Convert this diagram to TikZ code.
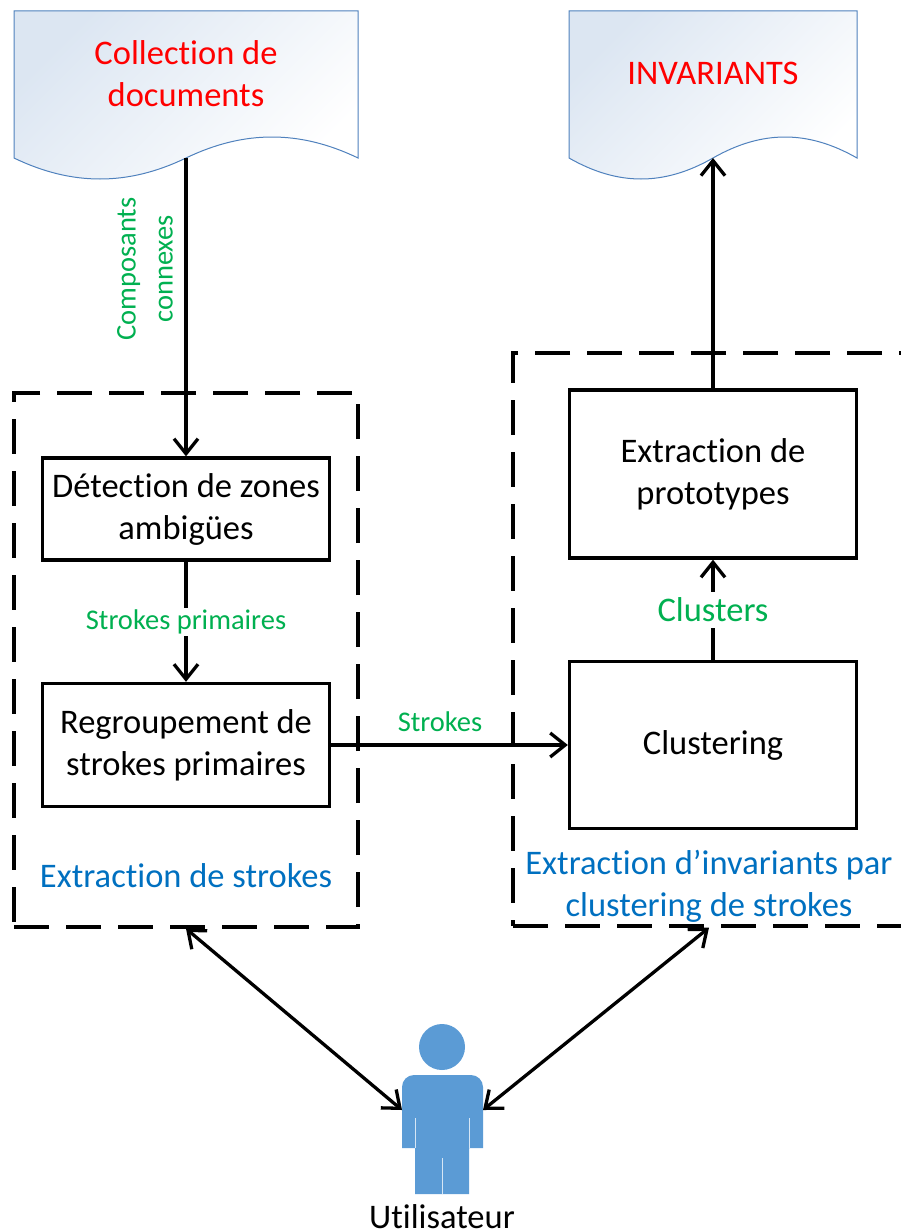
\documentclass[tikz,border=0pt]{standalone}
\usepackage{fontspec}
\setmainfont{Carlito}[Ligatures=TeX, RawFeature=-liga, RawFeature=-clig, RawFeature=-calt]
\usetikzlibrary{arrows.meta}
\definecolor{docred}{HTML}{FF0000}
\definecolor{lblgreen}{HTML}{00B050}
\definecolor{grpblue}{HTML}{0070C0}
\definecolor{userblue}{HTML}{5B9BD5}
\definecolor{docline}{HTML}{4F81BD}
\definecolor{docfill}{HTML}{DCE6F2}
\newcommand{\bigtxt}{\fontsize{34.5pt}{42pt}\selectfont}
\newcommand{\smalltxt}{\fontsize{28.5pt}{37pt}\selectfont}

\begin{document}
\begin{tikzpicture}[x=1pt, y=-1pt,
    box/.style={draw, line width=3.3pt, align=center, font=\bigtxt, inner sep=0pt, minimum width=287pt},
    frame/.style={draw, line width=3.3pt, dash pattern=on 35pt off 17pt},
    lbl/.style={font=\smalltxt, text=lblgreen, inner sep=2pt},
    grp/.style={font=\bigtxt, text=grpblue, align=center, inner sep=0pt},
    arr/.style={line width=3.3pt, -{Straight Barb[length=15pt, width=24pt]}},
    dbl/.style={line width=3.3pt, {Straight Barb[length=15pt, width=24pt]}-{Straight Barb[length=15pt, width=24pt]}},
    doc/.style={draw=docline, line width=1pt, top color=docfill, middle color=docfill!30!white, bottom color=white, shading angle=45}]
    \useasboundingbox (0,0) rectangle (901,1231);

    \path[doc] (14,11) -- (358,11) -- (358,158) .. controls (300,130) and (244,130) .. (186,158)
      .. controls (128,186) and (72,186) .. (14,158) -- cycle;
    \path[doc] (569,11) -- (857,11) -- (857,158) .. controls (808,130) and (762,130) .. (713,158)
      .. controls (664,186) and (618,186) .. (569,158) -- cycle;
    \coordinate (docA) at (186,158);
    \coordinate (docB) at (713,158);
    \node[font=\bigtxt, text=docred, align=center, inner sep=0pt] (docAtxt) at (186,74) {Collection de\\documents};
    \node[font=\bigtxt, text=docred, inner sep=0pt] (docBtxt) at (713,73) {INVARIANTS};

    \node[frame, minimum width=344pt, minimum height=534pt] (grpA) at (186,660) {};
    \node[frame, minimum width=392pt, minimum height=573pt] (grpB) at (709,639.5) {};
    \node[grp] (grpAlbl) at (186,876) {Extraction de strokes};
    \node[grp] (grpBlbl) at (709,886) {Extraction d'invariants par\\clustering de strokes};

    \node[box, minimum height=102pt] (det) at (186,509) {Détection de zones\\ambigües};
    \node[box, minimum height=123pt] (reg) at (186,745) {Regroupement de\\strokes primaires};
    \node[box, minimum height=168pt] (proto) at (713,474) {Extraction de\\prototypes};
    \node[box, minimum height=167pt] (clus) at (713,745) {Clustering};

    \draw[arr] (docA) -- (det);
    \node[lbl, rotate=90, align=center] (cc) at (145,269) {Composants\\connexes};
    \draw[arr] (det) -- node[lbl, fill=white] {Strokes primaires} (reg);
    \draw[arr] (reg) -- node[lbl, above, pos=0.46, yshift=10pt] {Strokes} (clus);
    \draw[arr] (clus) -- node[lbl, font=\bigtxt, fill=white, inner sep=6pt] {Clusters} (proto);
    \draw[arr] (proto) -- (docB);

    \fill[userblue] (442,1047) circle (23pt);
    \fill[userblue] (402,1148) -- (402,1087) arc[start angle=180, end angle=90, radius=12pt]
      -- (471,1075) arc[start angle=90, end angle=0, radius=12pt] -- (483,1148)
      -- (469,1148) -- (469,1194) -- (415,1194) -- (415,1148) -- cycle;
    \draw[white!75!userblue, line width=1pt] (415,1118) -- (415,1148);
    \draw[white!75!userblue, line width=1pt] (469,1118) -- (469,1148);
    \draw[white!75!userblue, line width=1pt] (442,1158) -- (442,1194);
    \coordinate (userL) at (402,1110);
    \coordinate (userR) at (483,1110);
    \node[font=\bigtxt, anchor=base, inner sep=0pt] (userlbl) at (442,1228) {Utilisateur};

    \draw[dbl] (grpA.south) -- (userL);
    \draw[dbl] (grpB.south) -- (userR);
  \end{tikzpicture}
\end{document}
